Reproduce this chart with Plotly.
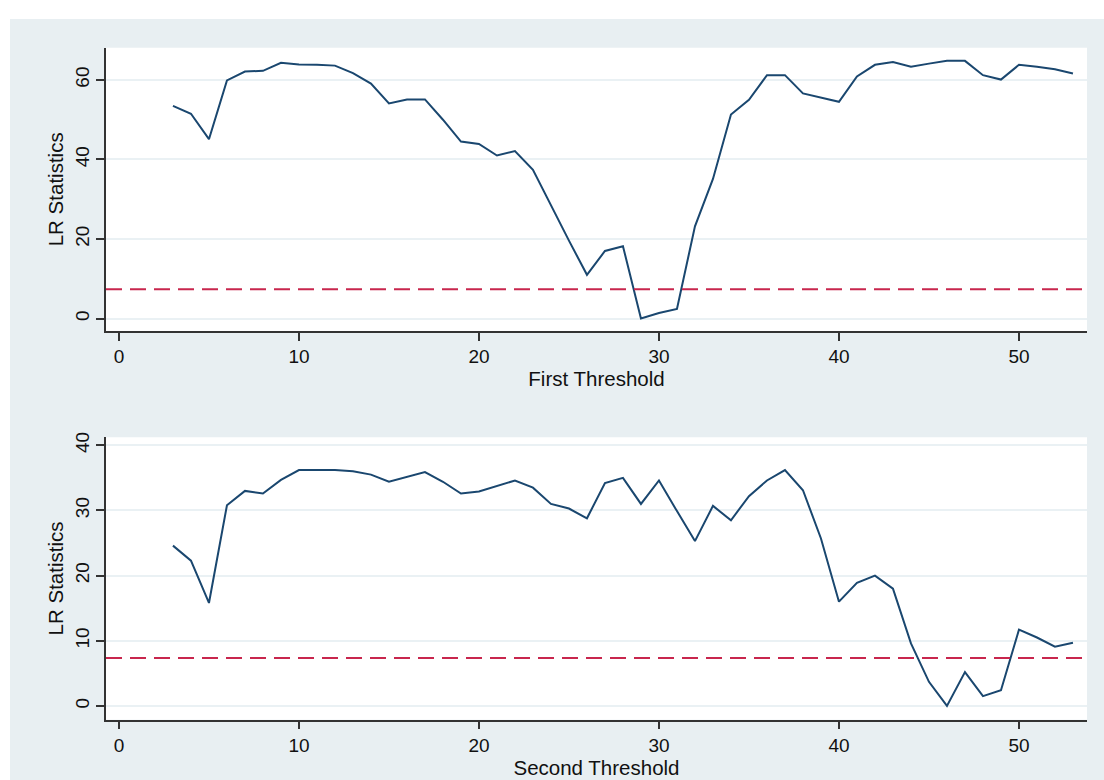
import plotly.graph_objects as go
from plotly.subplots import make_subplots

# Threshold grid (candidate threshold index)
thresholds = list(range(3, 54))

# Likelihood-ratio statistics for the first threshold search
lr_first = [53.5, 51.5, 45.1, 59.9, 62.1, 62.3, 64.3, 63.9, 63.8, 63.6,
            61.7, 59.1, 54.1, 55.1, 55.1, 50.0, 44.5, 43.9, 41.0, 42.1,
            37.4, 28.4, 19.6, 11.0, 17.0, 18.2, 0.0, 1.4, 2.4, 23.2,
            35.1, 51.3, 55.0, 61.2, 61.2, 56.6, 55.6, 54.5, 60.9, 63.8,
            64.5, 63.3, 64.1, 64.8, 64.8, 61.2, 60.1, 63.8, 63.3, 62.7,
            61.6]

# Likelihood-ratio statistics for the second threshold search
lr_second = [24.6, 22.3, 15.8, 30.8, 33.0, 32.6, 34.7, 36.2, 36.2, 36.2,
             36.0, 35.5, 34.4, 35.1, 35.9, 34.4, 32.6, 32.9, 33.8, 34.6,
             33.5, 31.0, 30.3, 28.8, 34.2, 35.0, 31.0, 34.6, 29.9, 25.3,
             30.7, 28.5, 32.2, 34.6, 36.2, 33.1, 25.7, 16.0, 18.9, 20.0,
             18.0, 9.6, 3.7, 0.0, 5.2, 1.5, 2.4, 11.7, 10.5, 9.1,
             9.7]

# 95% critical value
crit_value = 7.35

x_ticks = [0, 10, 20, 30, 40, 50]
y_ticks_first = [0, 20, 40, 60]
y_ticks_second = [0, 10, 20, 30, 40]

W, H = 1104, 780
LINE_COLOR = "#1a476f"
CRIT_COLOR = "#c8264d"
BG_COLOR = "#e8eff2"
GRID_COLOR = "#eaf1f4"
AXIS_COLOR = "#333333"
TEXT_COLOR = "#111111"
FONT = "Liberation Sans, Arial, sans-serif"
TICK_SIZE = 19
TITLE_SIZE = 20.5

fig = make_subplots(rows=2, cols=1)

fig.add_trace(go.Scatter(x=thresholds, y=lr_first, mode="lines",
                         line=dict(color=LINE_COLOR, width=2),
                         showlegend=False), row=1, col=1)
fig.add_trace(go.Scatter(x=thresholds, y=lr_second, mode="lines",
                         line=dict(color=LINE_COLOR, width=2),
                         showlegend=False), row=2, col=1)

# Panel placement in pixel terms, converted to paper fractions
x_dom = [106 / W, 1087 / W]
top_dom = [(H - 328) / H, (H - 43) / H]
bot_dom = [(H - 719.3) / H, (H - 435) / H]

axis_common = dict(
    showline=True, linecolor=AXIS_COLOR, linewidth=1.5,
    ticks="outside", ticklen=8, tickwidth=1.5, tickcolor=AXIS_COLOR,
    tickfont=dict(family=FONT, size=TICK_SIZE, color=TEXT_COLOR),
    zeroline=False,
)
title_font = dict(family=FONT, size=TITLE_SIZE, color=TEXT_COLOR)

fig.update_xaxes(domain=x_dom, range=[-0.72, 53.78], tickvals=x_ticks,
                 showgrid=False, **axis_common)
fig.update_xaxes(title=dict(text="First Threshold", standoff=0,
                            font=title_font), row=1, col=1)
fig.update_xaxes(title=dict(text="Second Threshold", standoff=0,
                            font=title_font), row=2, col=1)

fig.update_yaxes(showgrid=True, gridcolor=GRID_COLOR, gridwidth=2,
                 tickangle=-90, **axis_common)
fig.update_yaxes(domain=top_dom, range=[-3.1, 68.1], tickvals=y_ticks_first,
                 title=dict(text="LR Statistics", standoff=2, font=title_font),
                 row=1, col=1)
fig.update_yaxes(domain=bot_dom, range=[-2.11, 41.24], tickvals=y_ticks_second,
                 title=dict(text="LR Statistics", standoff=2, font=title_font),
                 row=2, col=1)

shapes = [
    # outer graph region
    dict(type="rect", xref="paper", yref="paper", x0=10 / W, x1=1, y0=0,
         y1=(H - 14) / H, fillcolor=BG_COLOR, line=dict(width=0), layer="below"),
    # white plot regions
    dict(type="rect", xref="paper", yref="paper", x0=x_dom[0], x1=x_dom[1],
         y0=top_dom[0], y1=top_dom[1], fillcolor="white", line=dict(width=0),
         layer="below"),
    dict(type="rect", xref="paper", yref="paper", x0=x_dom[0], x1=x_dom[1],
         y0=bot_dom[0], y1=bot_dom[1], fillcolor="white", line=dict(width=0),
         layer="below"),
]
# critical value reference lines
for ax in ("", "2"):
    shapes.append(dict(type="line", xref=f"x{ax} domain", yref=f"y{ax}",
                       x0=0, x1=1, y0=crit_value, y1=crit_value,
                       line=dict(color=CRIT_COLOR, width=2, dash="16px,8px")))

fig.update_layout(
    width=W, height=H,
    margin=dict(l=0, r=0, t=0, b=0),
    paper_bgcolor="white", plot_bgcolor="rgba(0,0,0,0)",
    shapes=shapes,
    font=dict(family=FONT, color=TEXT_COLOR),
)

fig.write_html("out.html")
